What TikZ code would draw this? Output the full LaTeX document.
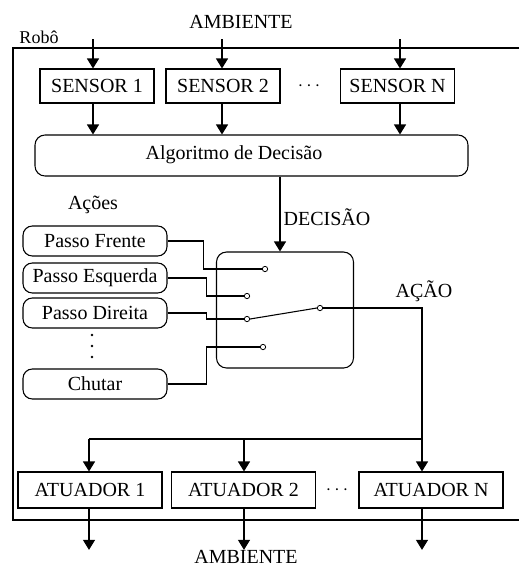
\documentclass[tikz,border=0pt]{standalone}
\usepackage{fontspec}
\setmainfont{Liberation Serif}
\usetikzlibrary{arrows.meta,positioning}

\tikzset{
  caixa/.style={draw, line width=0.8pt, minimum width=85.5pt, minimum height=25.5pt, inner sep=0pt},
  atuador/.style={caixa, minimum width=108pt, minimum height=27pt},
  acao/.style={draw, line width=0.8pt, rounded corners=7pt, minimum width=108pt, minimum height=22.5pt, inner sep=0pt},
  contato/.style={circle, draw, line width=0.6pt, fill=white, inner sep=0pt, minimum size=4pt},
  ponto/.style={circle, fill, inner sep=0pt, minimum size=2.2pt},
  fio/.style={line width=0.8pt},
  seta/.style={fio, -{Triangle[length=7.5pt,width=9pt]}}
}

\begin{document}
\begin{tikzpicture}[x=0.75pt, y=-0.75pt, font=\fontsize{15}{17}\selectfont]
	\useasboundingbox (0,0) rectangle (519,568);

	% moldura do robo
	\draw[fio] (519,48) -| (13,520) -- (519,520);
	\node (robo) at (39,37) {\fontsize{13.5}{15}\selectfont Robô};
	\node (amb_in) at (241,22) {AMBIENTE};

	% sensores
	\node[caixa](s1) at (97,86) {SENSOR 1};
	\node[caixa](s2) at (223,86) {SENSOR 2};
	\node[caixa](sN) at (397.5,86) {SENSOR N};
	\node (pts_s) at (309,86) {$\cdots$};

	\node[draw, fio, rounded corners=7.5pt, minimum width=324.75pt, minimum height=30.75pt](alg) at (251.5,155.5) {};
	\node (alg_txt) at (234,155) {Algoritmo de Decisão};

	\coordinate (t1) at (93,39);
	\coordinate (t2) at (222,39);
	\coordinate (t3) at (400,39);
	\foreach \t/\s in {t1/s1, t2/s2, t3/sN}{
		\draw[seta] (\t) -- (\t |- \s.north);
		\draw[seta] (\t |- \s.south) -- (\t |- alg.north);
	}

	% acoes
	\node (acoes) at (93,205) {Ações};
	\node[acao](a1) at (95,241) {Passo Frente};
	\node[acao](a2) at (95,278) {Passo Esquerda};
	\node[acao](a3) at (95,313) {Passo Direita};
	\foreach \y in {335,346,357}
		\node[ponto] at (92,\y) {};
	\node[acao](a4) at (95,384) {Chutar};

	% chave de selecao
	\node[draw, fio, rounded corners=7.5pt, minimum width=102.75pt, minimum height=87pt](sw) at (285,310) {};
	\coordinate (dec) at (280,0);
	\draw[seta] (alg.south -| dec) -- (sw.north -| dec);
	\node (decisao) at (327,217) {DECISÃO};

	\node[contato](c1) at (265,269) {};
	\node[contato](c2) at (247,296) {};
	\node[contato](c3) at (247,319) {};
	\node[contato](c4) at (263,347) {};
	\node[contato](c0) at (320,308) {};

	\draw[fio] (a1.east) -- ++(36,0) |- (c1.west);
	\draw[fio] (a2.east) -- ++(39,0) |- (c2.west);
	\draw[fio] (a3.east) -- ++(39,0) |- (c3.west);
	\draw[fio] (a4.east) -- ++(39,0) |- (c4.west);
	\draw[fio] (c3.east) -- (c0.west);
	\node (acao_txt) at (424,291) {AÇÃO};

	% atuadores
	\node[atuador](u1) at (90,490) {ATUADOR 1};
	\node[atuador](u2) at (243.5,490) {ATUADOR 2};
	\node[atuador](uN) at (431,490) {ATUADOR N};
	\node (pts_u) at (337,490) {$\cdots$};

	\coordinate (b1) at (89,439);
	\coordinate (b2) at (244,439);
	\coordinate (b3) at (422,439);
	\draw[fio] (c0.east) -| (b3) -- (b1);
	\foreach \b/\u in {b1/u1, b2/u2, b3/uN}{
		\draw[seta] (\b) -- (\b |- \u.north);
		\draw[seta] (\b |- \u.south) -- ([yshift=-31]\b |- \u.south);
	}
	\node (amb_out) at (246,557) {AMBIENTE};
\end{tikzpicture}
\end{document}
